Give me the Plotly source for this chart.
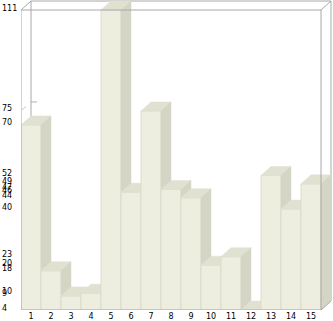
import plotly.graph_objects as go

categories = [str(i) for i in range(1, 16)]
values = [70, 18, 9, 10, 111, 46, 75, 47, 44, 20, 23, 4, 52, 40, 49]
y_tick_values = sorted(set(values))

W, H = 333, 321
ML, MB = 21, 11
PX_PER_X = 20.0
Y_MIN, Y_MAX = 4, 111
PLOT_H = H - MB
PX_PER_Y = (PLOT_H - 10) / (Y_MAX - Y_MIN)
DX = 10 / PX_PER_X
DY = 9 / PX_PER_Y
HALF = 0.5

FRONT = "#EEEEE0"
TOP = "#E1E1D1"
SIDE = "#D5D5C5"
EDGE = "#DCDCCC"
FRAME = "#A8A8A8"

fig = go.Figure()

def poly(xs, ys, fill, line=None, width=0):
    fig.add_trace(go.Scatter(
        x=xs + [xs[0]], y=ys + [ys[0]], mode="lines", fill="toself",
        fillcolor=fill, line=dict(color=line or fill, width=width),
        hoverinfo="skip", showlegend=False))

def seg(xs, ys, color=FRAME, width=1):
    fig.add_trace(go.Scatter(x=xs, y=ys, mode="lines",
                             line=dict(color=color, width=width),
                             hoverinfo="skip", showlegend=False))

# back wall frame
x0, x1 = HALF, len(values) + HALF
seg([x0 + DX, x1 + DX, x1 + DX], [Y_MAX + DY, Y_MAX + DY, Y_MIN + DY])
seg([x0 + DX, x0 + DX], [Y_MIN + DY, Y_MAX + DY])
# partial grid mark at 75
seg([x0 + 0.05, x0 + 0.25], [75 + 0.1 * DY, 75 + 0.5 * DY], color="#C8C8C8")
seg([x0 + DX, x0 + DX + 0.3], [75 + DY, 75 + DY], color="#B0B0B0")

# bars, drawn left to right
for i, v in enumerate(values):
    c = i + 1
    l, r = c - HALF, c + HALF
    b = Y_MIN
    # front
    poly([l, r, r, l], [b, b, v, v], FRONT, EDGE, 1)
    # top
    poly([l, r, r + DX, l + DX], [v, v, v + DY, v + DY], TOP, TOP, 0.5)
    # side
    poly([r, r + DX, r + DX, r], [b, b + DY, v + DY, v], SIDE, SIDE, 0.5)

# front frame and diagonals
seg([x0, x0, x1, x1, x0], [Y_MIN, Y_MAX, Y_MAX, Y_MIN, Y_MIN])
seg([x0, x0 + DX], [Y_MAX, Y_MAX + DY])
seg([x1, x1 + DX], [Y_MAX, Y_MAX + DY])
seg([x1, x1 + DX], [Y_MIN, Y_MIN + DY])

plot_w = W - ML
font = dict(family="DejaVu Sans", size=8, color="#000000")

for v in y_tick_values:
    fig.add_annotation(x=-ML / plot_w, xref="paper", xanchor="left",
                       y=v, yref="y", yanchor="middle", yshift=2,
                       text=str(v), showarrow=False, font=font)

fig.update_layout(
    width=W, height=H,
    margin=dict(l=ML, r=0, t=0, b=MB, pad=0),
    paper_bgcolor="white", plot_bgcolor="white",
    xaxis=dict(range=[HALF, HALF + plot_w / PX_PER_X], showgrid=False,
               zeroline=False, showline=False,
               tickvals=list(range(1, len(categories) + 1)), ticktext=categories,
               tickfont=font, ticks="", ticklabelstandoff=0),
    yaxis=dict(range=[Y_MIN, Y_MIN + PLOT_H / PX_PER_Y], showgrid=False,
               zeroline=False, showline=False, showticklabels=False),
)

fig.write_html("out.html")
